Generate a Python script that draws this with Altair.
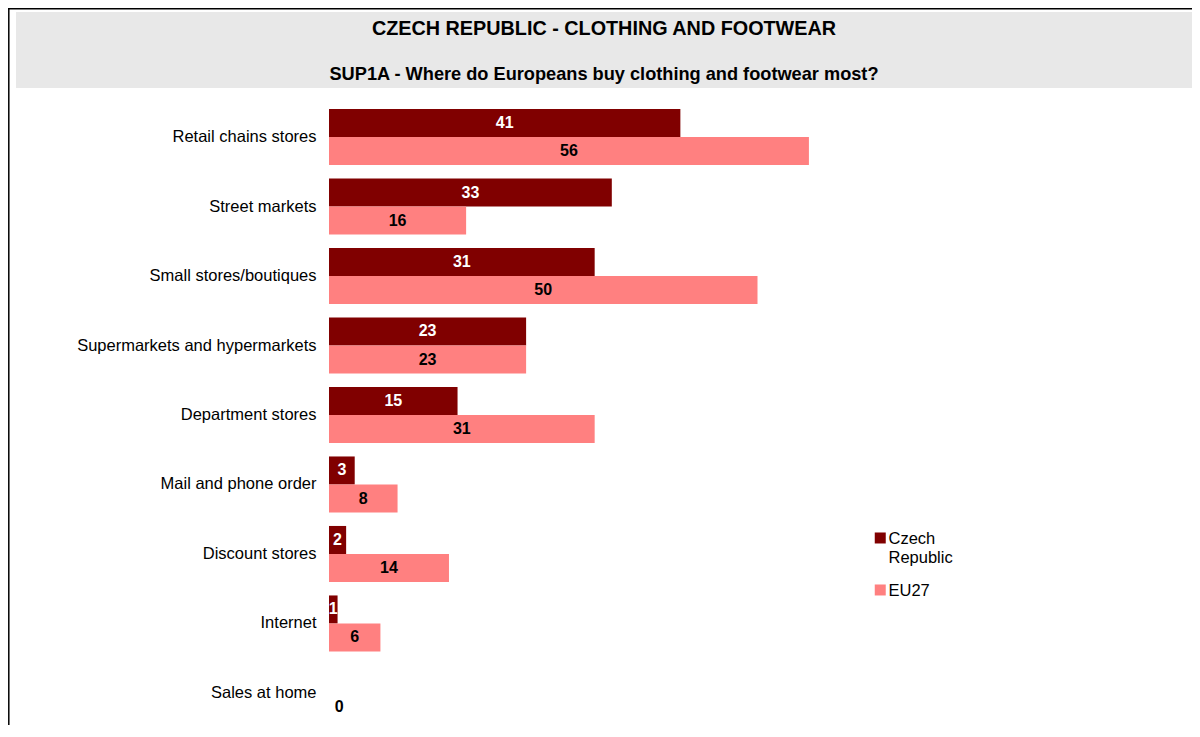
import altair as alt
import pandas as pd

categories = ["Retail chains stores", "Street markets", "Small stores/boutiques",
              "Supermarkets and hypermarkets", "Department stores", "Mail and phone order",
              "Discount stores", "Internet", "Sales at home"]
series = ["Czech Republic", "EU27"]
czech = [41, 33, 31, 23, 15, 3, 2, 1, None]
eu27 = [56, 16, 50, 23, 31, 8, 14, 6, 0]
colors = ["#800000", "#ff8080"]
title = "CZECH REPUBLIC - CLOTHING AND FOOTWEAR"
subtitle = "SUP1A - Where do Europeans buy clothing and footwear most?"

rows = []
for c, a, b in zip(categories, czech, eu27):
    rows.append({"cat": c, "series": series[0], "value": a})
    rows.append({"cat": c, "series": series[1], "value": b})
df = pd.DataFrame(rows)

FONT = "Liberation Sans"

y_enc = alt.Y("cat:N", sort=categories,
              scale=alt.Scale(paddingInner=0.1934, paddingOuter=0),
              axis=alt.Axis(title=None, domain=False, ticks=False, labelPadding=13,
                            labelFontSize=16.5, labelFont=FONT, labelColor="black",
                            labelLimit=400))
yoff = alt.YOffset("series:N", sort=series, scale=alt.Scale(paddingInner=0, paddingOuter=0))
x_scale = alt.Scale(domain=[0, 100], nice=False)

base = alt.Chart(df)

bars = base.mark_bar().encode(
    y=y_enc,
    yOffset=yoff,
    x=alt.X("value:Q", scale=x_scale, axis=None),
    color=alt.Color("series:N", sort=series,
                    scale=alt.Scale(domain=series, range=colors),
                    legend=alt.Legend(orient="none", legendX=543, legendY=422, title=None,
                                      symbolType="M-1,-1.23H1V0.77H-1Z", symbolSize=121,
                                      symbolStrokeWidth=0, labelFontSize=16.5, labelFont=FONT,
                                      labelColor="black", labelOffset=0, rowPadding=16,
                                      padding=0, labelBaseline="middle",
                                      labelExpr="datum.label == 'Czech Republic' ? ['Czech', 'Republic'] : [datum.label, '']")),
)

labels = base.transform_filter("isValid(datum.value)").transform_calculate(
    lx="datum.value == 0 ? 1.2 : datum.value / 2"
).mark_text(font=FONT, fontSize=16, fontWeight="bold", baseline="middle", align="center").encode(
    y=alt.Y("cat:N", sort=categories),
    yOffset=yoff,
    x=alt.X("lx:Q", scale=x_scale),
    text=alt.Text("value:Q", format="d"),
    color=alt.condition(alt.datum.series == "Czech Republic", alt.value("white"), alt.value("black")),
)

one = alt.Data(values=[{"k": 1}])
band = alt.Chart(one).mark_rect(color="#e8e8e8").encode(
    x=alt.value(-313), x2=alt.value(863), y=alt.value(-97), y2=alt.value(-21))
t1 = alt.Chart(one).mark_text(text=title, font=FONT, fontSize=19.8, fontWeight="bold",
                              align="center", baseline="alphabetic", color="black").encode(
    x=alt.value(275), y=alt.value(-74))
t2 = alt.Chart(one).mark_text(text=subtitle, font=FONT, fontSize=18.2, fontWeight="bold",
                              align="center", baseline="alphabetic", color="black").encode(
    x=alt.value(275), y=alt.value(-29))
top_line = alt.Chart(one).mark_rule(color="black", strokeWidth=1.5).encode(
    x=alt.value(-321), x2=alt.value(871), y=alt.value(-100.2))
left_line = alt.Chart(one).mark_rule(color="black", strokeWidth=1.5).encode(
    x=alt.value(-320.2), y=alt.value(-101), y2=alt.value(616))

chart = alt.layer(band, t1, t2, top_line, left_line, bars, labels).properties(
    width=857, height=612,
    background="white",
    autosize=alt.AutoSizeParams(type="none"),
    padding={"left": 321, "top": 101, "right": 6, "bottom": 4},
).configure_view(strokeWidth=0, stroke="transparent")

chart.save("out.html", embed_options={"renderer": "svg", "actions": False})
